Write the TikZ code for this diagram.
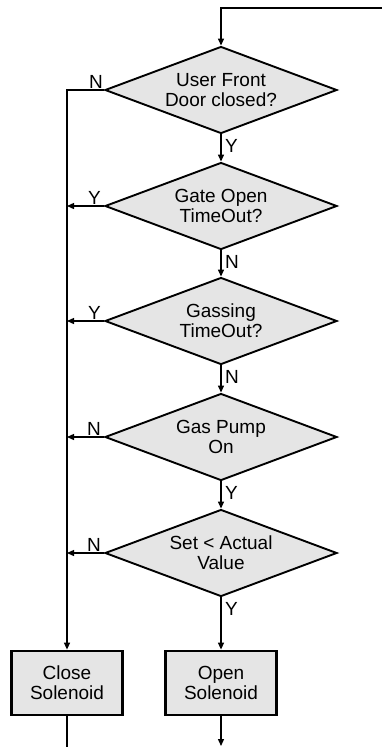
\documentclass[tikz,border=0pt]{standalone}
\usepackage{fontspec}
\setmainfont{Liberation Sans}
\usetikzlibrary{shapes.geometric,arrows.meta}
\begin{document}
\begin{tikzpicture}[x=1pt,y=-1pt,
  txt/.style={font=\fontsize{19}{20}\selectfont},
  decision/.style={txt,diamond,draw,line width=1.9pt,fill=gray!20,aspect=2.67,
    inner sep=0pt,minimum width=232pt,minimum height=87pt,align=center},
  action/.style={txt,rectangle,draw,line width=2.8pt,fill=gray!20,
    minimum width=111pt,minimum height=64pt,align=center,inner sep=0pt},
  conn/.style={line width=1.3pt},
  arr/.style={conn,-{Triangle[length=7pt,width=6pt]}},
  lbl/.style={txt,inner sep=0pt}]
\useasboundingbox (0,0) rectangle (382,747);
\node[decision] (d1) at (221,90) {User Front\\Door closed?};
\node[decision] (d2) at (221,206) {Gate Open\\TimeOut?};
\node[decision] (d3) at (221,321) {Gassing\\TimeOut?};
\node[decision] (d4) at (221,437) {Gas Pump\\On};
\node[decision] (d5) at (221,553) {Set < Actual\\Value};
\node[action] (close) at (67,683) {Close\\Solenoid};
\node[action] (open) at (221,683) {Open\\Solenoid};
\coordinate (topin) at (382,8);
\coordinate (outclose) at (67,747);
\coordinate (outopen) at (221,746);
% top entry
\draw[arr] (topin) -| (d1.north);
% main chain
\draw[arr] (d1.south) -- (d2.north);
\draw[arr] (d2.south) -- (d3.north);
\draw[arr] (d3.south) -- (d4.north);
\draw[arr] (d4.south) -- (d5.north);
\draw[arr] (d5.south) -- (open.north);
% left bus
\draw[arr] (d1.west) -| (close.north);
\draw[arr] (d2.west) -- (d2.west -| close.north);
\draw[arr] (d3.west) -- (d3.west -| close.north);
\draw[arr] (d4.west) -- (d4.west -| close.north);
\draw[arr] (d5.west) -- (d5.west -| close.north);
% outputs
\draw[conn] (close.south) -- (outclose);
\draw[arr] (open.south) -- (outopen);
% labels
\node[lbl,anchor=south east] (l1) at ([shift={(-1,-1)}]d1.west) {N};
\node[lbl,anchor=south east] (l2) at ([shift={(-3,-1)}]d2.west) {Y};
\node[lbl,anchor=south east] (l3) at ([shift={(-3,-1)}]d3.west) {Y};
\node[lbl,anchor=south east] (l4) at ([shift={(-3,-1)}]d4.west) {N};
\node[lbl,anchor=south east] (l5) at ([shift={(-3,-1)}]d5.west) {N};
\node[lbl,anchor=north west] (b1) at ([shift={(4,5)}]d1.south) {Y};
\node[lbl,anchor=north west] (b2) at ([shift={(4,5)}]d2.south) {N};
\node[lbl,anchor=north west] (b3) at ([shift={(4,5)}]d3.south) {N};
\node[lbl,anchor=north west] (b4) at ([shift={(4,5)}]d4.south) {Y};
\node[lbl,anchor=north west] (b5) at ([shift={(4,5)}]d5.south) {Y};
\end{tikzpicture}
\end{document}
